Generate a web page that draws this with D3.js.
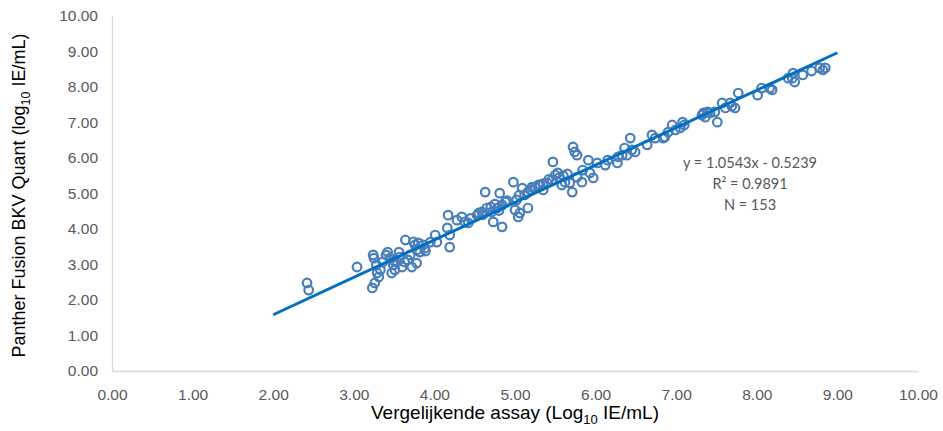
<!DOCTYPE html>
<html>
<head>
<meta charset="utf-8">
<script src="https://cdn.jsdelivr.net/npm/d3@7"></script>
<style>
  html, body { margin: 0; padding: 0; background: #fff; }
  svg { display: block; }
</style>
</head>
<body>
<svg id="chart" width="943" height="431"></svg>
<script>
// ---- data ----
const xValues = [
  2.42, 2.44, 3.04, 3.23, 3.26, 3.24, 3.25, 3.28, 3.29, 3.31,
  3.42, 3.45, 3.49, 3.47, 3.54, 3.57, 3.60, 3.64, 3.67, 3.72,
  3.76, 3.80, 3.82, 3.78, 3.88, 3.95, 4.01, 3.36, 3.40, 3.51,
  3.56, 3.63, 3.70, 3.33, 3.74, 3.78, 3.86, 3.89, 4.03, 4.17,
  4.16, 4.19, 4.19, 4.28, 4.34, 4.38, 4.42, 4.53, 4.59, 4.63,
  4.65, 4.71, 4.73, 4.78, 4.81, 4.84, 4.84, 4.88, 4.98, 5.00,
  5.02, 5.04, 5.06, 5.12, 5.16, 5.19, 5.25, 5.29, 4.55, 4.70,
  4.75, 4.60, 4.45, 4.80, 5.09, 5.16, 5.21, 5.31, 5.35, 5.40,
  5.46, 5.47, 5.50, 5.53, 5.58, 5.62, 5.68, 5.71, 5.72, 5.74,
  5.77, 5.77, 5.83, 5.84, 5.91, 5.93, 5.97, 6.02, 6.12, 6.15,
  6.27, 6.28, 6.33, 6.36, 6.39, 6.43, 6.45, 6.49, 6.64, 5.42,
  5.55, 5.65, 5.60, 5.35, 6.70, 6.74, 6.84, 6.90, 6.95, 6.99,
  7.05, 7.08, 7.32, 7.36, 7.39, 7.42, 7.48, 7.51, 7.57, 7.61,
  7.67, 7.73, 7.77, 7.34, 7.69, 6.86, 7.10, 8.01, 8.06, 8.16,
  8.19, 8.39, 8.45, 8.47, 8.44, 8.57, 8.68, 8.78, 8.85, 8.82,
  4.90, 5.05, 3.50
];
const yValues = [
  2.48, 2.28, 2.93, 2.34, 2.48, 3.27, 3.18, 2.99, 2.76, 2.65,
  3.35, 3.18, 2.99, 2.76, 3.07, 3.21, 2.93, 3.69, 3.13, 2.93,
  3.55, 3.61, 3.35, 3.04, 3.46, 3.63, 3.83, 3.07, 3.27, 2.85,
  3.35, 3.07, 3.27, 2.85, 3.64, 3.41, 3.55, 3.38, 3.63, 4.39,
  4.03, 3.83, 3.49, 4.25, 4.34, 4.20, 4.17, 4.39, 4.48, 5.04,
  4.59, 4.48, 4.20, 4.59, 5.01, 4.68, 4.06, 4.76, 5.32, 4.54,
  4.82, 4.34, 4.45, 4.96, 4.59, 5.10, 5.18, 5.24, 4.45, 4.62,
  4.70, 4.40, 4.30, 4.52, 5.15, 5.04, 5.18, 5.24, 5.10, 5.30,
  5.38, 5.89, 5.52, 5.58, 5.24, 5.32, 5.30, 5.04, 6.31, 6.17,
  6.08, 5.46, 5.32, 5.66, 5.94, 5.58, 5.44, 5.86, 5.80, 5.94,
  5.86, 6.03, 6.08, 6.28, 6.08, 6.56, 6.23, 6.17, 6.37, 5.40,
  5.45, 5.55, 5.50, 5.28, 6.65, 6.56, 6.56, 6.73, 6.93, 6.79,
  6.85, 7.01, 7.21, 7.15, 7.30, 7.27, 7.30, 7.01, 7.55, 7.41,
  7.55, 7.41, 7.83, 7.27, 7.46, 6.59, 6.93, 7.77, 7.97, 7.97,
  7.92, 8.25, 8.39, 8.14, 8.25, 8.34, 8.45, 8.54, 8.54, 8.48,
  4.80, 4.95, 3.10
];
const slope = 1.0543;
const intercept = -0.5239;
const trendRange = [2.0, 9.0];
const xTicks = [0, 1, 2, 3, 4, 5, 6, 7, 8, 9, 10];
const yTicks = [0, 1, 2, 3, 4, 5, 6, 7, 8, 9, 10];
const annotationLines = ["y = 1.0543x - 0.5239", "R\u00B2 = 0.9891", "N = 153"];

// ---- layout ----
const svg = d3.select("#chart");
const margin = { left: 112, right: 25, top: 16, bottom: 60 };
const W = 943, H = 431;
const x = d3.scaleLinear().domain([0, 10]).range([margin.left, W - margin.right]);
const y = d3.scaleLinear().domain([0, 10]).range([H - margin.bottom, margin.top]);

const tickFont = "'Liberation Sans Narrow', 'Arial Narrow', sans-serif";
const tickColor = "#595959";
const axisColor = "#d9d9d9";

// x axis
const xAxis = svg.append("g")
  .attr("transform", `translate(0,${y(0)})`)
  .call(d3.axisBottom(x).tickValues(xTicks).tickSize(0).tickPadding(18).tickFormat(d3.format(".2f")));
xAxis.select(".domain").attr("stroke", axisColor).attr("stroke-width", 1.3);
xAxis.selectAll("text").attr("font-family", tickFont).attr("font-size", 15.5).attr("fill", tickColor);

// y axis
const yAxis = svg.append("g")
  .attr("transform", `translate(${x(0)},0)`)
  .call(d3.axisLeft(y).tickValues(yTicks).tickSize(0).tickPadding(14).tickFormat(d3.format(".2f")));
yAxis.select(".domain").attr("stroke", axisColor).attr("stroke-width", 1.3);
yAxis.selectAll("text").attr("font-family", tickFont).attr("font-size", 15.5).attr("fill", tickColor);

// points
const pts = xValues.map((v, i) => ({ x: v, y: yValues[i] }));
svg.append("g").selectAll("circle").data(pts).enter().append("circle")
  .attr("cx", d => x(d.x))
  .attr("cy", d => y(d.y))
  .attr("r", 4.3)
  .attr("fill", "none")
  .attr("stroke", "#4a7ebb")
  .attr("stroke-width", 2.2);

// trend line
svg.append("line")
  .attr("x1", x(trendRange[0])).attr("y1", y(slope * trendRange[0] + intercept))
  .attr("x2", x(trendRange[1])).attr("y2", y(slope * trendRange[1] + intercept))
  .attr("stroke", "#0070c0")
  .attr("stroke-width", 3)
  .attr("stroke-linecap", "butt");

// annotation
const ann = svg.append("text")
  .attr("font-family", "Lato, 'Open Sans', sans-serif")
  .attr("font-size", 14.5)
  .attr("fill", tickColor)
  .attr("text-anchor", "middle");
annotationLines.forEach((t, i) => {
  ann.append("tspan").attr("x", 750).attr("y", 168 + i * 21).text(t);
});

// axis titles
const xt = svg.append("text")
  .attr("x", (x(0) + x(10)) / 2)
  .attr("y", 419)
  .attr("text-anchor", "middle")
  .attr("font-family", "'Liberation Sans', Arial, sans-serif")
  .attr("font-size", 19)
  .attr("fill", "#000");
xt.append("tspan").text("Vergelijkende assay (Log");
xt.append("tspan").attr("font-size", 13).attr("dy", 5).text("10");
xt.append("tspan").attr("dy", -5).text(" IE/mL)");

const yt = svg.append("text")
  .attr("transform", `translate(25,${(y(0) + y(10)) / 2 + 2}) rotate(-90)`)
  .attr("text-anchor", "middle")
  .attr("font-family", "'Liberation Sans', Arial, sans-serif")
  .attr("font-size", 18)
  .attr("fill", "#000");
yt.append("tspan").text("Panther Fusion BKV Quant (log");
yt.append("tspan").attr("font-size", 12.5).attr("dy", 4.5).text("10");
yt.append("tspan").attr("dy", -4.5).text(" IE/mL)");
</script>
</body>
</html>
